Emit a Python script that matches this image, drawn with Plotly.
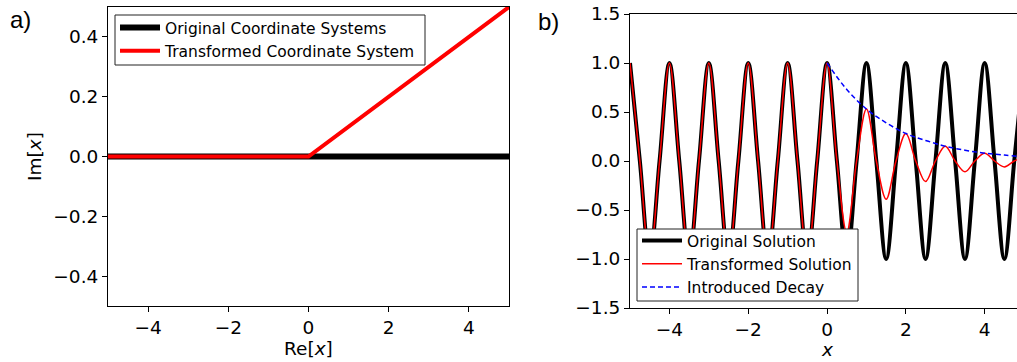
import plotly.graph_objects as go

# ---- panel a): contour in the complex plane ----
re_x = [-5.0, 0.0, 5.0]
im_original = [0.0, 0.0, 0.0]
im_transformed = [0.0, 0.0, 0.5]

# ---- panel b): wave solutions ----
# extrema positions (every half period) and the extreme values there
extrema_x = [-5.0, -4.5, -4.0, -3.5, -3.0, -2.5, -2.0, -1.5, -1.0, -0.5, 0.0,
             0.5, 1.0, 1.5, 2.0, 2.5, 3.0, 3.5, 4.0, 4.5, 5.0]
original_extrema = [1, -1, 1, -1, 1, -1, 1, -1, 1, -1, 1,
                    -1, 1, -1, 1, -1, 1, -1, 1, -1, 1]
transformed_extrema = [1, -1, 1, -1, 1, -1, 1, -1, 1, -1, 1,
                       -0.73, 0.53, -0.39, 0.28, -0.21, 0.15, -0.11, 0.08, -0.06, 0.04]

decay_x = [0.0, 0.5, 1.0, 1.5, 2.0, 2.5, 3.0, 3.5, 4.0, 4.5, 5.0]
decay_vals = [1.0, 0.73, 0.53, 0.39, 0.28, 0.21, 0.15, 0.11, 0.08, 0.06, 0.04]


def with_zero_crossings(xs, ys):
    """Insert the zero crossing halfway between consecutive extrema."""
    out_x, out_y = [], []
    for i, (xv, yv) in enumerate(zip(xs, ys)):
        out_x.append(xv)
        out_y.append(yv)
        if i < len(xs) - 1:
            out_x.append((xv + xs[i + 1]) / 2)
            out_y.append(0.0)
    return out_x, out_y


orig_x, orig_y = with_zero_crossings(extrema_x, original_extrema)
trans_x, trans_y = with_zero_crossings(extrema_x, transformed_extrema)

W, H = 1017, 362
FONT = "DejaVu Sans"
TICK = 18.5

fig = go.Figure()

fig.add_trace(go.Scatter(x=re_x, y=im_original, mode="lines",
                         line=dict(color="black", width=6),
                         name="Original Coordinate Systems",
                         xaxis="x", yaxis="y", legend="legend"))
fig.add_trace(go.Scatter(x=re_x, y=im_transformed, mode="lines",
                         line=dict(color="#ff0000", width=4),
                         name="Transformed Coordinate System",
                         xaxis="x", yaxis="y", legend="legend"))

fig.add_trace(go.Scatter(x=orig_x, y=orig_y, mode="lines",
                         line=dict(color="black", width=4, shape="spline", smoothing=1.0),
                         name="Original Solution",
                         xaxis="x2", yaxis="y2", legend="legend2"))
fig.add_trace(go.Scatter(x=trans_x, y=trans_y, mode="lines",
                         line=dict(color="#ff0000", width=1.5, shape="spline", smoothing=1.0),
                         name="Transformed Solution",
                         xaxis="x2", yaxis="y2", legend="legend2"))
fig.add_trace(go.Scatter(x=decay_x, y=decay_vals, mode="lines",
                         line=dict(color="#0000ff", width=1.5, dash="5px,3px",
                                   shape="spline"),
                         name="Introduced Decay",
                         xaxis="x2", yaxis="y2", legend="legend2"))

axis_common = dict(showline=True, linecolor="black", linewidth=1,
                   ticks="outside", ticklen=5, tickwidth=1, tickcolor="black",
                   showgrid=False, zeroline=False, automargin=False,
                   tickfont=dict(family=FONT, size=TICK, color="black"))

legend_common = dict(bgcolor="rgba(0,0,0,0)", borderwidth=0,
                     font=dict(family=FONT, size=15.5, color="black"),
                     xanchor="left", yanchor="top", itemwidth=40,
                     tracegroupgap=0)

fig.update_layout(
    width=W, height=H,
    margin=dict(l=0, r=0, t=0, b=0, pad=0, autoexpand=False),
    paper_bgcolor="white", plot_bgcolor="white",
    xaxis=dict(domain=[108 / W, 509 / W], range=[-5, 5], tickvals=[-4, -2, 0, 2, 4],
               mirror=True, anchor="y", **axis_common),
    yaxis=dict(domain=[1 - 306 / H, 1 - 7 / H], range=[-0.5, 0.5],
               tickvals=[-0.4, -0.2, 0.0, 0.2, 0.4], tickformat=".1f",
               mirror=True, anchor="x", **axis_common),
    xaxis2=dict(domain=[630 / W, 1.0], range=[-5, 4.82], tickvals=[-4, -2, 0, 2, 4],
                mirror=True, anchor="y2", **axis_common),
    yaxis2=dict(domain=[1 - 308 / H, 1 - 14 / H], range=[-1.5, 1.5], dtick=0.5,
                tickformat=".1f", mirror=False, anchor="x2", **axis_common),
    legend=dict(x=115 / W, y=1 - 11 / H, **legend_common),
    legend2=dict(x=637 / W, y=1 - 224 / H, **legend_common),
    showlegend=True,
)

# legend frames (white boxes over the curves)
for x0, x1, y0, y1 in [(115, 425, 15, 65), (637, 858, 229, 301)]:
    fig.add_shape(type="rect", xref="paper", yref="paper", layer="above",
                  x0=x0 / W, x1=x1 / W, y0=1 - y1 / H, y1=1 - y0 / H,
                  fillcolor="white", line=dict(color="#222", width=1))

annotations = [
    dict(text="Re[<i>x</i>]", x=308 / W, y=1 - 348 / H, font=dict(family=FONT, size=TICK)),
    dict(text="Im[<i>x</i>]", x=35 / W, y=1 - 157 / H, textangle=-90,
         font=dict(family=FONT, size=TICK)),
    dict(text="<i>x</i>", x=827 / W, y=1 - 349 / H, font=dict(family=FONT, size=TICK)),
    dict(text="a)", x=20 / W, y=1 - 20 / H, font=dict(family="Liberation Sans", size=24)),
    dict(text="b)", x=548 / W, y=1 - 21 / H, font=dict(family="Liberation Sans", size=24)),
]
for a in annotations:
    fig.add_annotation(xref="paper", yref="paper", showarrow=False,
                       xanchor="center", yanchor="middle",
                       font_color="black", **a)

fig.write_html("out.html")
